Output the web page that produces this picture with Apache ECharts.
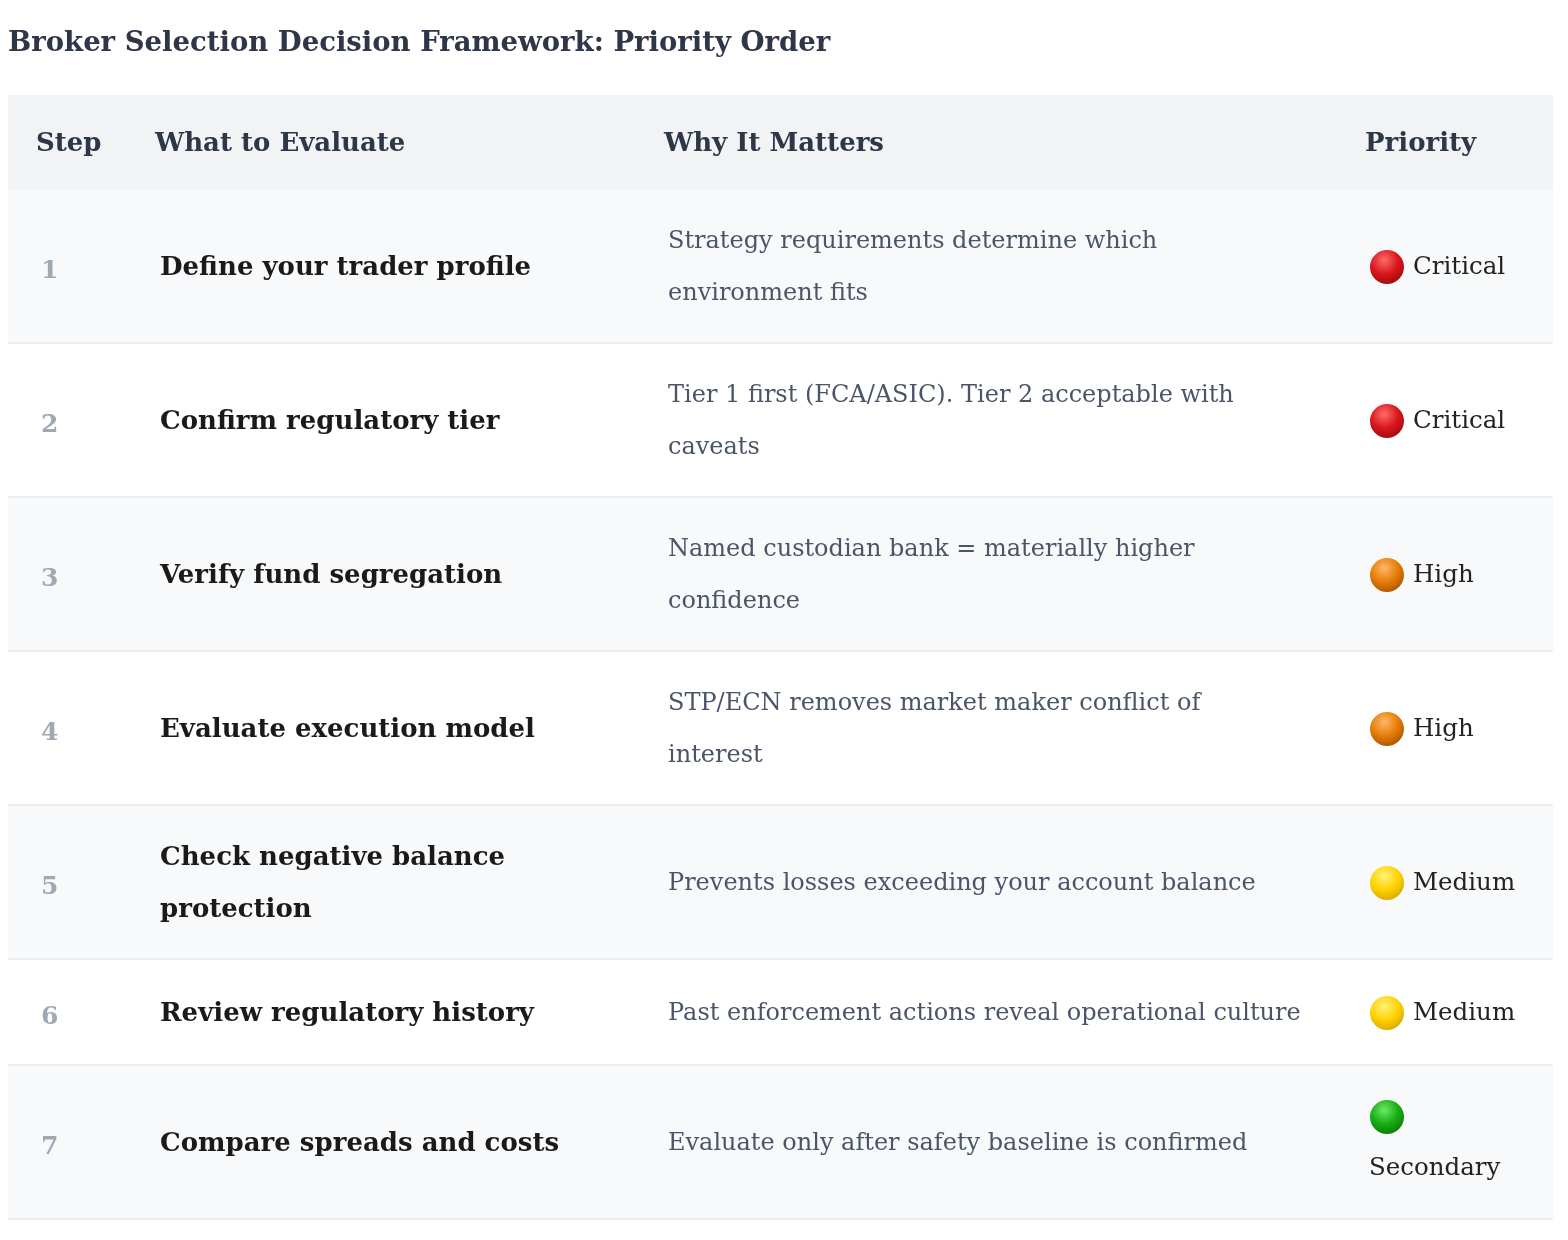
<!DOCTYPE html>
<html>
<head>
<meta charset="utf-8">
<script src="https://cdn.jsdelivr.net/npm/echarts@6/dist/echarts.min.js"></script>
<style>
  html, body { margin: 0; padding: 0; background: #fff; }
  #chart { width: 1568px; height: 1240px; }
</style>
</head>
<body>
<div id="chart"></div>
<script>
// table content
var headers = ['Step', 'What to Evaluate', 'Why It Matters', 'Priority'];
var steps = ['1', '2', '3', '4', '5', '6', '7'];
var evaluate = [
    'Define your trader profile',
    'Confirm regulatory tier',
    'Verify fund segregation',
    'Evaluate execution model',
    'Check negative balance\nprotection',
    'Review regulatory history',
    'Compare spreads and costs'
];
var whyItMatters = [
    'Strategy requirements determine which\nenvironment fits',
    'Tier 1 first (FCA/ASIC). Tier 2 acceptable with\ncaveats',
    'Named custodian bank = materially higher\nconfidence',
    'STP/ECN removes market maker conflict of\ninterest',
    'Prevents losses exceeding your account balance',
    'Past enforcement actions reveal operational culture',
    'Evaluate only after safety baseline is confirmed'
];
var priorities = ['Critical', 'Critical', 'High', 'High', 'Medium', 'Medium', 'Secondary'];

// layout (pixels)
var FONT = '"DejaVu Serif", Georgia, serif';
var LINE = 52;
var colX = [36, 155, 664, 1365];
var cellPad = 4;
var tableLeft = 8, tableRight = 1553;
var headerTop = 95, headerH = 95;
var rowHeights = [154, 154, 154, 154, 154, 106, 154];
var dotColors = {
    Critical: ['#ff6b6b', '#d9161c', '#9e0a0e'],
    High: ['#ffb866', '#e57c06', '#a85400'],
    Medium: ['#fff27a', '#ffd200', '#d9a600'],
    Secondary: ['#6ee86a', '#16ad12', '#0a7a08']
};

var rowTops = [];
var acc = headerTop + headerH;
rowHeights.forEach(function (h) { rowTops.push(acc); acc += h; });

var measureCtx = document.createElement('canvas').getContext('2d');
function textWidth(str, font) {
    measureCtx.font = font;
    return measureCtx.measureText(str).width;
}

var chart = echarts.init(document.getElementById('chart'));

function renderHeader(params, api) {
    var p0 = api.coord([tableLeft, headerTop]);
    var p1 = api.coord([tableRight, headerTop + headerH]);
    var children = [{
        type: 'rect',
        shape: { x: p0[0], y: p0[1], width: p1[0] - p0[0], height: p1[1] - p0[1] },
        style: { fill: '#f1f3f5' }
    }];
    headers.forEach(function (h, i) {
        var pt = api.coord([colX[i], headerTop + headerH / 2 + 2]);
        children.push({
            type: 'text',
            style: {
                text: h, x: pt[0], y: pt[1],
                font: 'bold 26px ' + FONT,
                fill: '#2d3748', align: 'left', verticalAlign: 'middle'
            }
        });
    });
    return { type: 'group', children: children };
}

function renderRow(params, api) {
    var i = api.value(0);
    var top = rowTops[i], h = rowHeights[i], mid = top + h / 2;
    var p0 = api.coord([tableLeft, top]);
    var p1 = api.coord([tableRight, top + h]);
    var children = [{
        type: 'rect',
        shape: { x: p0[0], y: p0[1], width: p1[0] - p0[0], height: p1[1] - p0[1] },
        style: { fill: i % 2 === 0 ? '#f8f9fa' : '#ffffff' }
    }, {
        type: 'rect',
        shape: { x: p0[0], y: p1[1] - 2, width: p1[0] - p0[0], height: 2 },
        style: { fill: '#eceef1' }
    }];

    var c = api.coord([colX[0] + cellPad + 1, mid + 4]);
    children.push({
        type: 'text',
        style: { text: steps[i], x: c[0], y: c[1], font: 'bold 25px ' + FONT,
            fill: '#a0a8b6', align: 'left', verticalAlign: 'middle' }
    });
    c = api.coord([colX[1] + cellPad + 1, mid + 1]);
    children.push({
        type: 'text',
        style: { text: evaluate[i], x: c[0], y: c[1], font: 'bold 26px ' + FONT,
            lineHeight: LINE, fill: '#1a1a1a', align: 'left', verticalAlign: 'middle' }
    });
    c = api.coord([colX[2] + cellPad, mid + 1]);
    children.push({
        type: 'text',
        style: { text: whyItMatters[i], x: c[0], y: c[1], font: '24px ' + FONT,
            lineHeight: LINE, fill: '#4a5568', align: 'left', verticalAlign: 'middle' }
    });

    // priority dot + label, label drops below the dot when it does not fit
    var label = priorities[i];
    var font = '24.5px ' + FONT;
    var wraps = 44 + textWidth(label, font) > 160;
    var dotY = wraps ? mid - LINE / 2 : mid;
    var labY = wraps ? mid + LINE / 2 : mid + 1;
    var d = api.coord([colX[3] + cellPad + 18, dotY]);
    var cols = dotColors[label];
    children.push({
        type: 'circle',
        shape: { cx: d[0], cy: d[1], r: 17 },
        style: {
            fill: new echarts.graphic.RadialGradient(0.42, 0.3, 0.75, [
                { offset: 0, color: cols[0] },
                { offset: 0.55, color: cols[1] },
                { offset: 1, color: cols[2] }
            ])
        }
    });
    var lp = api.coord([colX[3] + cellPad + (wraps ? 0 : 44), labY]);
    children.push({
        type: 'text',
        style: { text: label, x: lp[0], y: lp[1], font: font,
            fill: '#222222', align: 'left', verticalAlign: 'middle' }
    });
    return { type: 'group', children: children };
}

chart.setOption({
    animation: false,
    title: {
        text: 'Broker Selection Decision Framework: Priority Order',
        left: 8,
        top: 30,
        padding: 0,
        textStyle: { fontFamily: FONT, fontWeight: 'bold', fontSize: 27.5, color: '#2d3748' }
    },
    grid: { left: 0, right: 0, top: 0, bottom: 0 },
    xAxis: { type: 'value', min: 0, max: 1568, show: false },
    yAxis: { type: 'value', min: 0, max: 1240, inverse: true, show: false },
    series: [{
        type: 'custom',
        renderItem: renderHeader,
        data: [[0]]
    }, {
        type: 'custom',
        renderItem: renderRow,
        data: steps.map(function (s, i) { return [i]; })
    }]
});
</script>
</body>
</html>
